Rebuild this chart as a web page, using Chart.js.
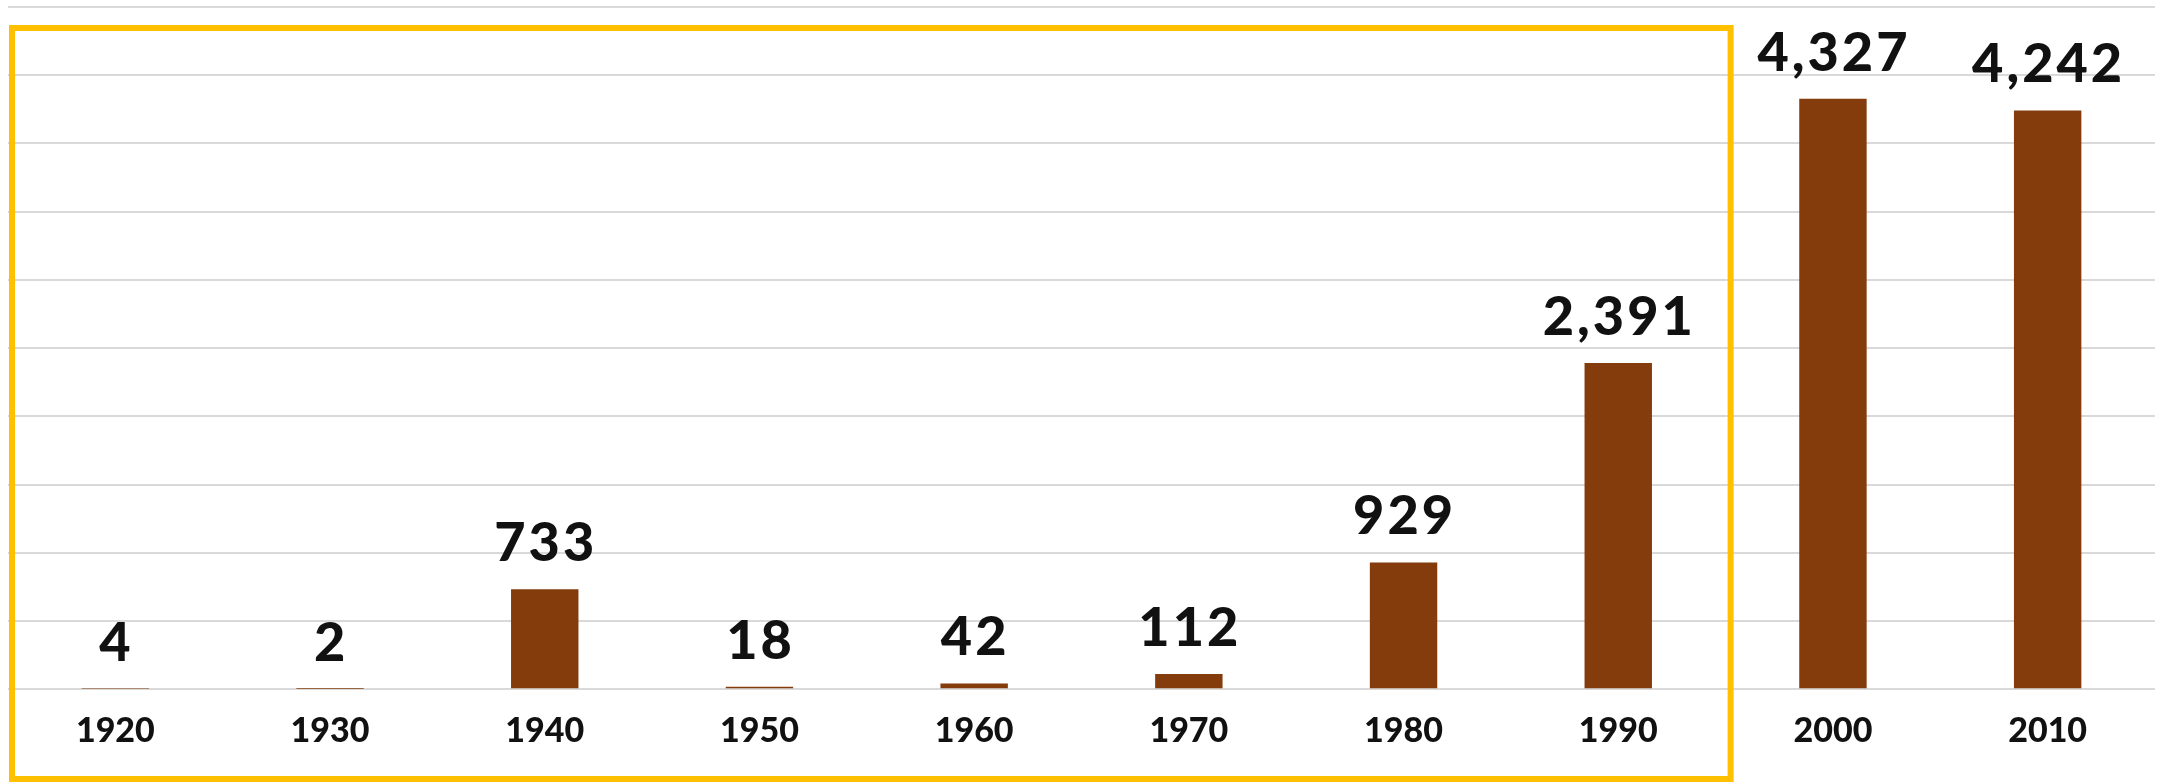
<!DOCTYPE html>
<html>
<head>
<meta charset="utf-8">
<script src="https://cdn.jsdelivr.net/npm/chart.js@4.4.1/dist/chart.umd.min.js"></script>
<style>
  html, body { margin: 0; padding: 0; background: #fff; }
  #wrap { width: 2158px; height: 782px; }
</style>
</head>
<body>
<div id="wrap"><canvas id="myChart"></canvas></div>
<script>
// values
var years = ['1920', '1930', '1940', '1950', '1960', '1970', '1980', '1990', '2000', '2010'];
var counts = [4, 2, 733, 18, 42, 112, 929, 2391, 4327, 4242];
var yMax = 5000;
var yStep = 500;
var boxLastIndex = 7; // yellow frame covers 1920..1990

// number above each bar
var barLabels = {
    id: 'barLabels',
    afterDatasetsDraw: function(chart) {
        var ctx = chart.ctx;
        var meta = chart.getDatasetMeta(0);
        ctx.save();
        ctx.font = '900 54px Lato, "Liberation Sans", sans-serif';
        ctx.fillStyle = '#111111';
        ctx.textAlign = 'center';
        ctx.textBaseline = 'alphabetic';
        if ('letterSpacing' in ctx) ctx.letterSpacing = '3px';
        meta.data.forEach(function(bar, i) {
            var v = chart.data.datasets[0].data[i];
            ctx.fillText(v.toLocaleString('en-US'), bar.x + 1, bar.y - 28);
        });
        ctx.restore();
    }
};

// yellow frame around the first decades
var frame = {
    id: 'frame',
    afterDraw: function(chart) {
        var ctx = chart.ctx;
        var x = chart.scales.x;
        var area = chart.chartArea;
        var right = (x.getPixelForValue(boxLastIndex) + x.getPixelForValue(boxLastIndex + 1)) / 2 + 5;
        var top = area.top + 21;
        ctx.save();
        ctx.strokeStyle = '#FFC000';
        ctx.lineWidth = 6;
        ctx.strokeRect(area.left + 4, top, right - area.left - 4, chart.height - 3 - top);
        ctx.restore();
    }
};

var config = {
    type: 'bar',
    data: {
        labels: years,
        datasets: [{
            data: counts,
            backgroundColor: '#843C0C',
            borderWidth: 0,
            categoryPercentage: 1,
            barPercentage: 0.314
        }]
    },
    options: {
        responsive: true,
        maintainAspectRatio: false,
        animation: false,
        layout: { padding: { top: 7, left: 8, right: 3, bottom: 10 } },
        plugins: {
            legend: { display: false },
            tooltip: { enabled: false }
        },
        scales: {
            x: {
                grid: { display: false, drawTicks: false },
                border: { display: false },
                ticks: {
                    padding: 21,
                    color: '#111111',
                    font: { family: 'Lato, "Liberation Sans", sans-serif', size: 34, weight: '900' }
                }
            },
            y: {
                min: 0,
                max: yMax,
                ticks: { display: false, stepSize: yStep },
                grid: { color: '#d9d9d9', lineWidth: 2, drawTicks: false },
                border: { display: false }
            }
        }
    },
    plugins: [barLabels, frame]
};

const ctx = document.getElementById('myChart').getContext('2d');
const myChart = new Chart(ctx, config);
</script>
</body>
</html>
